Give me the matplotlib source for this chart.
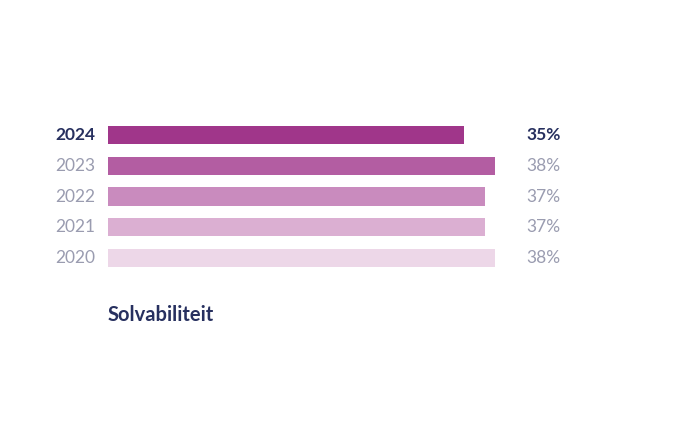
import matplotlib
matplotlib.use("Agg")
import matplotlib.pyplot as plt

years = ["2020", "2021", "2022", "2023", "2024"]
values = [38, 37, 37, 38, 35]
colors = ["#EDD7E8", "#DBAFD2", "#C98BBE", "#B35DA2", "#A0368A"]

plt.rcParams['font.family'] = ['Lato', 'DejaVu Sans']
W, H = 700, 438
fig = plt.figure(figsize=(7, 4.38), dpi=100)
ax = fig.add_axes([108/W, 1-273/H, 387/W, 153/H])
ys = list(range(len(years)))
ax.barh(ys, values, height=0.6, color=colors)
ax.set_xlim(0, 38)
ax.set_ylim(-0.5, 4.5)
ax.axis('off')
navy = "#27305F"
gray = "#9A9CB0"
for y, yr, v in zip(ys, years, values):
    last = yr == "2024"
    c = navy if last else gray
    w = 'bold' if last else 'normal'
    ax.text(-13/387*38, y, yr, ha='right', va='center', fontsize=12.5, color=c, fontweight=w, clip_on=False)
    ax.text(418/387*38, y, f"{v}%", ha='left', va='center', fontsize=12.5, color=c, fontweight=w, clip_on=False)
fig.text(108/W, 1-315/H, "Solvabiliteit", ha='left', va='center', fontsize=14.5, color=navy, fontweight='bold')
fig.savefig("out.png", dpi=100)
